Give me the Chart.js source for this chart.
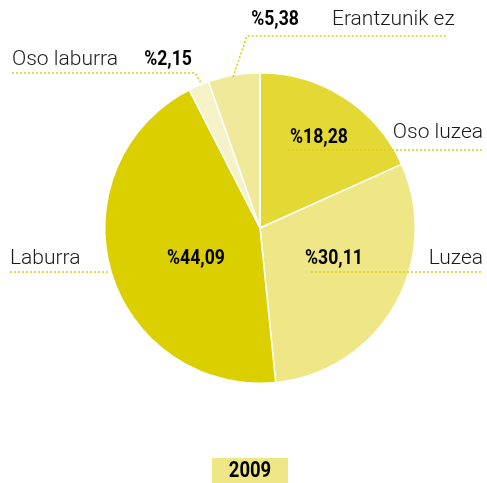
<!DOCTYPE html>
<html>
<head>
  <title>2009</title>
  <script src="https://cdn.jsdelivr.net/npm/chart.js"></script>
  <style>
    body {
      margin: 0;
      background-color: #fff;
    }
    .chart-container {
      width: 487px;
      height: 483px;
    }
  </style>
</head>
<body>
  <div class="chart-container">
    <canvas id="pieChart" width="487" height="483"></canvas>
  </div>

  <script>
    const categories = ['Oso luzea', 'Luzea', 'Laburra', 'Oso laburra', 'Erantzunik ez'];
    const shares = [18.28, 30.11, 44.09, 2.15, 5.38];
    const yearLabel = '2009';

    const sliceColors = ['#e4d835', '#efe785', '#dccf00', '#f6f3c8', '#f0e999'];
    const lineColor = '#dccf10';

    const pct = v => '%' + v.toFixed(2).replace('.', ',');

    // squeezed bold text, to look like a condensed face
    function condensed(ctx, text, x, y, size) {
      ctx.save();
      ctx.font = 'bold ' + size + 'px Roboto';
      ctx.textAlign = 'center';
      ctx.translate(x, y);
      ctx.scale(0.84, 1);
      ctx.fillText(text, 0, 0);
      ctx.restore();
    }

    // labels, percentages and dotted leader lines (placed by hand)
    const labelPlugin = {
      id: 'labels',
      afterDraw(chart) {
        const ctx = chart.ctx;
        ctx.save();

        // dotted leaders
        ctx.strokeStyle = lineColor;
        ctx.lineWidth = 1.6;
        ctx.setLineDash([2, 2]);
        const lines = [
          [[288, 150], [482, 150]],
          [[311, 272], [482, 272]],
          [[10, 272], [108, 272]],
          [[12, 73], [195, 73], [201, 83]],
          [[233, 77], [247, 36], [446, 36]]
        ];
        lines.forEach(pts => {
          ctx.beginPath();
          ctx.moveTo(pts[0][0], pts[0][1]);
          pts.slice(1).forEach(p => ctx.lineTo(p[0], p[1]));
          ctx.stroke();
        });
        ctx.setLineDash([]);

        ctx.textBaseline = 'middle';
        ctx.fillStyle = '#1a1a1a';

        // category names
        ctx.font = '300 21px Roboto';
        ctx.textAlign = 'left';
        ctx.fillText(categories[4], 332, 20);
        ctx.fillText(categories[3], 12, 60);
        ctx.fillText(categories[2], 10, 259);
        ctx.textAlign = 'right';
        ctx.fillText(categories[0], 483, 133);
        ctx.fillText(categories[1], 483, 259);

        // percentages
        ctx.fillStyle = '#000';
        condensed(ctx, pct(shares[4]), 275, 20, 21);
        condensed(ctx, pct(shares[3]), 168, 60, 21);
        condensed(ctx, pct(shares[0]), 319, 138, 21);
        condensed(ctx, pct(shares[2]), 196, 259, 21);
        condensed(ctx, pct(shares[1]), 334, 259, 21);

        // year box
        ctx.fillStyle = sliceColors[1];
        ctx.fillRect(212, 458, 76, 25);
        ctx.fillStyle = '#000';
        condensed(ctx, yearLabel, 250, 471, 22);

        ctx.restore();
      }
    };

    new Chart(document.getElementById('pieChart').getContext('2d'), {
      type: 'pie',
      data: {
        labels: categories,
        datasets: [{
          data: shares,
          backgroundColor: sliceColors,
          borderColor: '#ffffff',
          borderWidth: 1.5
        }]
      },
      options: {
        responsive: false,
        animation: false,
        layout: {
          padding: { left: 104, right: 71, top: 72, bottom: 99 }
        },
        plugins: {
          legend: { display: false },
          tooltip: { enabled: false }
        }
      },
      plugins: [labelPlugin]
    });
  </script>
</body>
</html>
